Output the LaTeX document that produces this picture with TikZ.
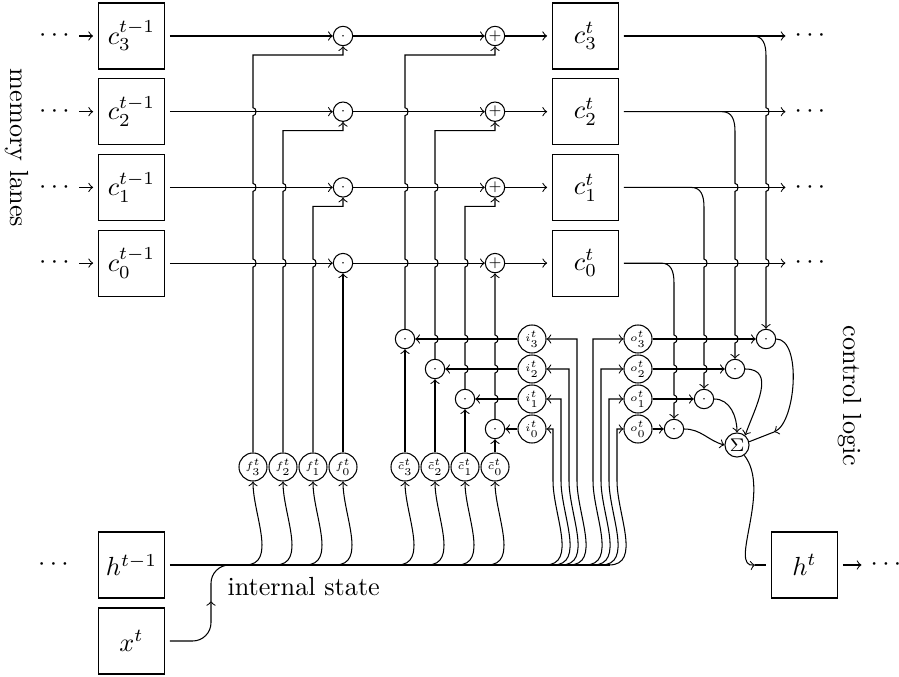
\documentclass[tikz,border=0pt]{standalone}
\newcommand{\glab}[1]{\scalebox{0.8}{$#1$}}
\begin{document}
\begin{tikzpicture}[x=0.38168pt,y=-0.38168pt,
  box/.style={draw, minimum width=25.5pt, minimum height=25.2pt, inner sep=0pt, outer sep=1.9pt},
  gate/.style={draw, circle, minimum size=10.7pt, inner sep=0pt, font=\tiny},
  prod/.style={draw, circle, minimum size=7.4pt, inner sep=0pt, font=\tiny},
  sumn/.style={draw, circle, minimum size=9.2pt, inner sep=0pt, font=\scriptsize},
  hopup/.style 2 args={insert path={-- (#1,#2+4) .. controls (#1+4,#2+4) and (#1+4,#2-4) .. (#1,#2-4)}},
  hopdn/.style 2 args={insert path={-- (#1,#2-4) .. controls (#1+4,#2-4) and (#1+4,#2+4) .. (#1,#2+4)}},
]
\useasboundingbox (0,0) rectangle (899,677);

% memory lanes
\foreach \k/\y in {3/36,2/111.7,1/187.4,0/263.1}{
  \node[box] (cp\k) at (131.5,\y) {$c_{\k}^{t-1}$};
  \node (dl\k) at (54.5,\y) {$\cdots$};
  \node[prod] (m\k) at (343,\y) {$\cdot$};
  \node[prod] (p\k) at (495,\y) {$+$};
  \node[box] (cn\k) at (585.5,\y) {$c_{\k}^{t}$};
  \node (dr\k) at (810,\y) {$\cdots$};
  \draw[->] (dl\k) -- (cp\k);
  \draw[->] (cp\k) -- (m\k);
  \draw[->] (m\k) -- (p\k);
  \draw[->] (p\k) -- (cn\k);
  \draw[->] (cn\k) -- (dr\k);
}

% gates
\foreach \k/\x in {3/253,2/283,1/313,0/343}
  \node[gate] (f\k) at (\x,467) {\glab{f_{\k}^t}};
\foreach \k/\x in {3/405,2/435,1/465,0/495}
  \node[gate] (g\k) at (\x,467) {\glab{\tilde c_{\k}^t}};
\foreach \k/\x/\y in {3/405/339,2/435/369,1/465/399,0/495/429}{
  \node[prod] (mi\k) at (\x,\y) {$\cdot$};
  \node[gate] (i\k) at (532,\y) {\glab{i_{\k}^t}};
  \node[gate] (o\k) at (638,\y) {\glab{o_{\k}^t}};
  \draw[->] (g\k) -- (mi\k);
  \draw[->] (i\k) -- (mi\k);
}
\foreach \k/\x/\y in {3/766/339,2/735/369,1/704/399,0/674/429}{
  \node[prod] (mo\k) at (\x,\y) {$\cdot$};
  \draw[->] (o\k) -- (mo\k);
}

% forget gate connections
\draw[->] (f3.north) [hopup={253}{263.1}] [hopup={253}{187.4}] [hopup={253}{111.7}] -- (253,55) -- (343,55) -- (m3.south);
\draw[->] (f2.north) [hopup={283}{263.1}] [hopup={283}{187.4}] -- (283,130.7) -- (343,130.7) -- (m2.south);
\draw[->] (f1.north) [hopup={313}{263.1}] -- (313,206.4) -- (343,206.4) -- (m1.south);
\draw[->] (f0) -- (m0);

% input connections
\draw[->] (mi3.north) [hopup={405}{263.1}] [hopup={405}{187.4}] [hopup={405}{111.7}] -- (405,55) -- (495,55) -- (p3.south);
\draw[->] (mi2.north) [hopup={435}{339}] [hopup={435}{263.1}] [hopup={435}{187.4}] -- (435,130.7) -- (495,130.7) -- (p2.south);
\draw[->] (mi1.north) [hopup={465}{369}] [hopup={465}{339}] [hopup={465}{263.1}] -- (465,206.4) -- (495,206.4) -- (p1.south);
\draw[->] (mi0.north) [hopup={495}{399}] [hopup={495}{369}] [hopup={495}{339}] -- (p0.south);

% bottom row
\node[box] (hp) at (131.5,565) {$h^{t-1}$};
\node (dh) at (53.5,565) {$\cdots$};
\node[box] (xt) at (131.5,641) {$x^t$};
\node[box] (hn) at (804.5,565) {$h^t$};
\node (dhn) at (886,565) {$\cdots$};
\coordinate (lend) at (610,565);
\draw (hp.east) -- (lend);
\node[anchor=base west, inner sep=0pt] (ist) at (227,596) {internal state};

\coordinate (xa) at (211,601);
\coordinate (xj) at (236,565);
\draw[->, rounded corners=7pt] (xt.east) -| (xa);
\draw[rounded corners=7pt] (xa) |- (xj);

\foreach \k/\x in {3/253,2/283,1/313,0/343}
  \draw[->] (\x-8,565) to[out=0,in=-90] (f\k.south);
\foreach \k/\x in {3/405,2/435,1/465,0/495}
  \draw[->] (\x-8,565) to[out=0,in=-90] (g\k.south);
\foreach \k/\c/\y in {3/577/339,2/569/369,1/561/399,0/553/429}
  \draw[->] (\c-8,565) to[out=0,in=-90] (\c,481) -- (\c,\y) -- (i\k.east);
\foreach \k/\c/\y in {3/593/339,2/601/369,1/609/399,0/617/429}
  \draw[->] (\c-8,565) to[out=0,in=-90] (\c,481) -- (\c,\y) -- (o\k.west);

% output branches
\draw[->] (cn3.east) -- (753,36) .. controls (763,36) and (766,44) .. (766,56) [hopdn={766}{111.7}] [hopdn={766}{187.4}] [hopdn={766}{263.1}] -- (mo3.north);
\draw[->] (cn2.east) -- (722,111.7) .. controls (732,111.7) and (735,119.7) .. (735,131.7) [hopdn={735}{187.4}] [hopdn={735}{263.1}] [hopdn={735}{339}] -- (mo2.north);
\draw[->] (cn1.east) -- (691,187.4) .. controls (701,187.4) and (704,195.4) .. (704,207.4) [hopdn={704}{263.1}] [hopdn={704}{339}] [hopdn={704}{369}] -- (mo1.north);
\draw[->] (cn0.east) -- (661,263.1) .. controls (671,263.1) and (674,271.1) .. (674,283.1) [hopdn={674}{339}] [hopdn={674}{369}] [hopdn={674}{399}] -- (mo0.north);

% sum
\node[sumn] (S) at (737,445) {$\Sigma$};
\draw[->] (mo0.east) to[out=0,in=165] (S.west);
\draw[->] (mo1.east) to[out=0,in=90] (S.north);
\draw[->] (mo2.east) to[out=0,in=70,looseness=1.2] (S.50);
\coordinate (s3) at (774,432);
\draw[->] (mo3.east) .. controls (802,339) and (796,422) .. (s3);
\draw (s3) -- (S.15);

\coordinate (hin) at (755,565);
\draw[->] (S.-55) .. controls (772,490) and (728,568) .. (hin);
\draw (hin) -- (hn.west);
\draw[->] (hn) -- (dhn);

% labels
\node[rotate=-90] (ml) at (17,148) {memory lanes};
\node[rotate=-90] (cl) at (850,396) {control logic};
\end{tikzpicture}
\end{document}
